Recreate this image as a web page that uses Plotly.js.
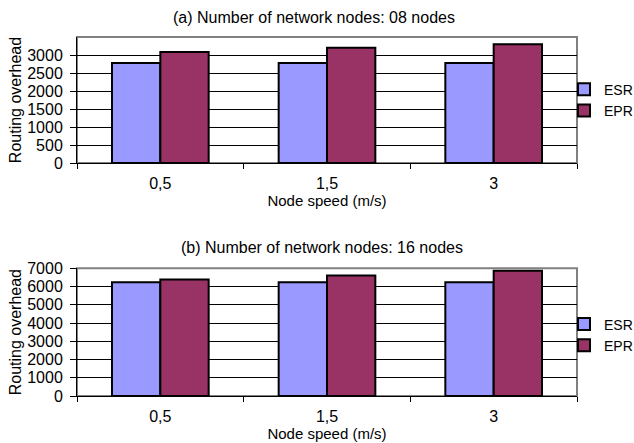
<!DOCTYPE html>
<html>
<head>
<meta charset="utf-8">
<script src="https://cdn.plot.ly/plotly-3.0.1.min.js"></script>
<style>html,body{margin:0;padding:0;background:#fff;}</style>
</head>
<body>
<div id="chart" style="width:634px;height:443px;"></div>
<script>
const speeds = ["0,5", "1,5", "3"];
const esr08 = [2780, 2780, 2780];
const epr08 = [3080, 3200, 3300];
const esr16 = [6230, 6230, 6230];
const epr16 = [6380, 6600, 6870];
const yTicks08 = [0, 500, 1000, 1500, 2000, 2500, 3000];
const yTicks16 = [0, 1000, 2000, 3000, 4000, 5000, 6000, 7000];
const title08 = "(a) Number of network nodes: 08 nodes";
const title16 = "(b) Number of network nodes: 16 nodes";

const FONT = "Liberation Sans, Arial, sans-serif";
const ESR_COLOR = "#9999FF";
const EPR_COLOR = "#993366";
const outline = {color: "#000000", width: 2};

const traces = [
  {type: "bar", name: "ESR", x: speeds, y: esr08, xaxis: "x", yaxis: "y",
   marker: {color: ESR_COLOR, line: outline}, legend: "legend"},
  {type: "bar", name: "EPR", x: speeds, y: epr08, xaxis: "x", yaxis: "y",
   marker: {color: EPR_COLOR, line: outline}, legend: "legend"},
  {type: "bar", name: "ESR", x: speeds, y: esr16, xaxis: "x2", yaxis: "y2",
   marker: {color: ESR_COLOR, line: outline}, legend: "legend2"},
  {type: "bar", name: "EPR", x: speeds, y: epr16, xaxis: "x2", yaxis: "y2",
   marker: {color: EPR_COLOR, line: outline}, legend: "legend2"}
];

function xAxis(domainAnchor) {
  return {
    anchor: domainAnchor, type: "category",
    showline: true, linecolor: "#000", linewidth: 1,
    ticks: "outside", tickson: "boundaries", ticklen: 5, tickcolor: "#000", tickwidth: 1,
    tickfont: {family: FONT, size: 16, color: "#000"},
    ticklabelstandoff: 6,
    showgrid: false, zeroline: false, fixedrange: true,
    title: {text: "Node speed (m/s)", font: {family: FONT, size: 15, color: "#000"}, standoff: 0}
  };
}
function yAxis(domain, anchor, range, tickvals) {
  return {
    domain: domain, anchor: anchor, range: range, tickvals: tickvals,
    showline: true, linecolor: "#000", linewidth: 1,
    ticks: "outside", ticklen: 6, tickcolor: "#000", tickwidth: 1,
    tickfont: {family: FONT, size: 16, color: "#000"},
    ticklabelstandoff: 4,
    showgrid: true, gridcolor: "#000", gridwidth: 1,
    zeroline: false, fixedrange: true,
    title: {text: "Routing overhead", font: {family: FONT, size: 16, color: "#000"}, standoff: 1}
  };
}

const legendBase = {
  x: 0.974, xanchor: "left", yanchor: "middle",
  bgcolor: "rgba(0,0,0,0)", borderwidth: 0,
  font: {family: FONT, size: 14, color: "#000"},
  tracegroupgap: 0, itemwidth: 30
};

const layout = {
  width: 634, height: 443,
  margin: {l: 77, r: 57, t: 37, b: 47, autoexpand: false},
  paper_bgcolor: "#fff", plot_bgcolor: "#fff",
  font: {family: FONT, color: "#000"},
  barmode: "group", bargap: 0.42, bargroupgap: 0,
  xaxis: xAxis("y"),
  yaxis: yAxis([0.649, 1], "x", [0, 3500], yTicks08),
  xaxis2: xAxis("y2"),
  yaxis2: yAxis([0, 0.3557], "x2", [0, 7000], yTicks16),
  legend: Object.assign({}, legendBase, {y: 0.824}),
  legend2: Object.assign({}, legendBase, {y: 0.17}),
  shapes: [
    {type: "rect", xref: "x domain", yref: "y domain", x0: 0, x1: 1, y0: 0, y1: 1,
     line: {color: "#808080", width: 2}, layer: "below"},
    {type: "rect", xref: "x2 domain", yref: "y2 domain", x0: 0, x1: 1, y0: 0, y1: 1,
     line: {color: "#808080", width: 2}, layer: "below"}
  ],
  annotations: [
    {text: title08, xref: "paper", yref: "paper", x: 0.474, y: 1.0557,
     xanchor: "center", yanchor: "middle", showarrow: false,
     font: {family: FONT, size: 16, color: "#000"}},
    {text: title16, xref: "paper", yref: "paper", x: 0.49, y: 0.4123,
     xanchor: "center", yanchor: "middle", showarrow: false,
     font: {family: FONT, size: 16, color: "#000"}}
  ]
};

Plotly.newPlot("chart", traces, layout, {displayModeBar: false, staticPlot: true});
</script>
</body>
</html>
